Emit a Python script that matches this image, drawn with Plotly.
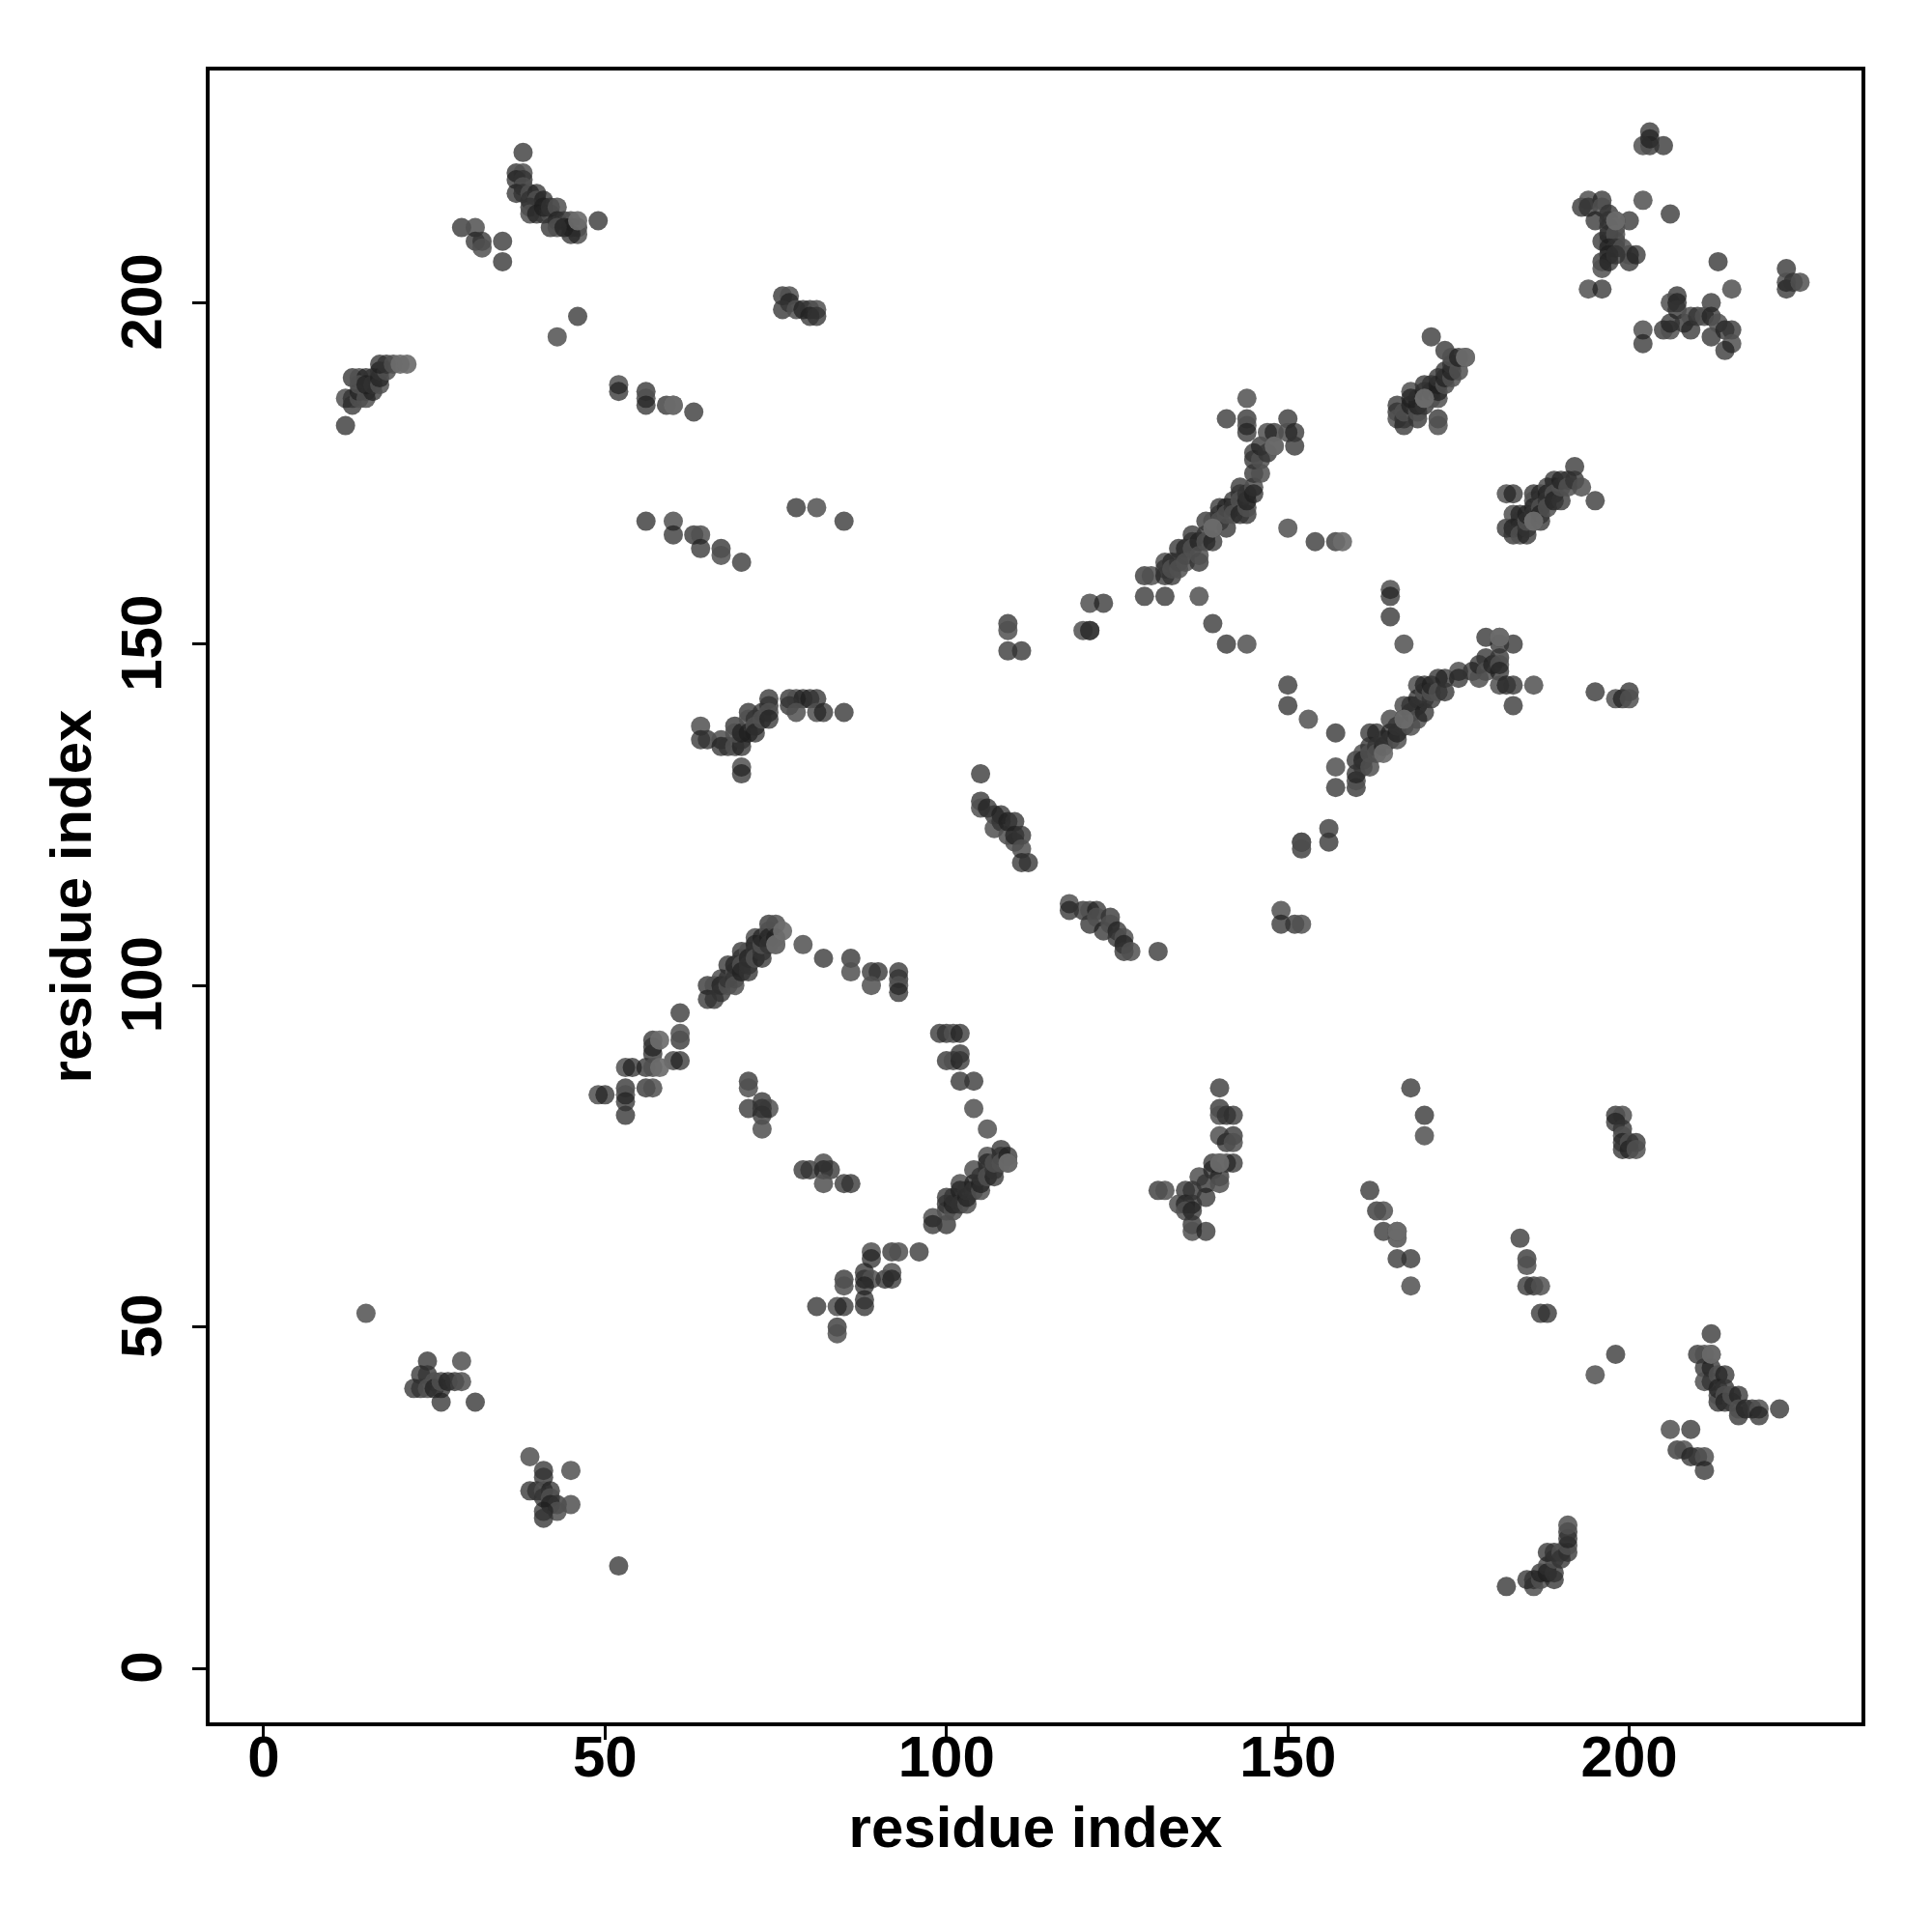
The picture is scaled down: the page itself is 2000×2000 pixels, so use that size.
import plotly.graph_objects as go

tick_values = [0, 50, 100, 150, 200]
axis_label = "residue index"

cluster_nterm = [(12,182),(12,186),(13,185),(13,186),(14,186),(14,187),(15,187),(15,186),(16,187),(13,189),(14,189),(15,189),(16,189),(14,188),(15,188),(16,188),(17,188),(17,189),(17,190),(18,190),(17,191),(18,191),(19,191)]
cluster_top = [(38,222),(37,219),(38,219),(37,218),(38,218),(38,217),(37,216),(38,216),(39,216),(40,216),(39,215),(40,215),(41,215),(39,214),(39,213),(40,213),(41,213),(42,213),(41,214),(42,214),(43,214),(43,212),(44,212),(45,212),(45,211),(46,211),(46,210),(45,210),(42,211),(43,211),(44,211),(29,211),(31,211),(31,209),(32,209),(32,208),(35,209),(35,206),(43,195),(46,198),(49,212)]
cluster_upper_left = [(52,188),(52,187),(56,187),(56,186),(56,185),(59,185),(60,185),(63,184),(56,168),(60,168),(60,166),(63,166),(64,166),(64,164),(67,164),(67,163),(70,162),(78,170),(81,170),(85,168),(76,201),(77,201),(77,200),(76,199),(78,199),(79,199),(80,199),(81,199),(80,198),(81,198)]
cluster_c2 = [(64,138),(64,136),(65,136),(67,136),(67,135),(68,135),(69,135),(70,135),(70,136),(70,132),(70,131),(69,138),(69,137),(70,137),(71,140),(71,139),(71,137),(72,139),(72,138),(72,137),(73,140),(73,139),(74,142),(74,141),(74,140),(74,139),(77,142),(78,142),(79,142),(77,141),(78,140),(80,142),(81,142),(81,140),(82,140),(85,140)]
cluster_arc = [(49,84),(50,84),(53,85),(53,84),(53,83),(53,81),(53,88),(54,88),(56,85),(57,85),(56,88),(57,90),(57,88),(57,91),(57,92),(60,89),(61,89),(61,92),(61,93),(61,96),(65,100),(66,100),(65,98),(66,98),(67,101),(67,100),(67,99),(68,100),(68,103),(68,101),(69,102),(69,103),(69,101),(69,100),(70,105),(70,104),(70,103),(70,102),(71,102),(71,105),(71,104),(71,103),(72,107),(72,106),(72,105),(72,104),(73,104),(73,105),(73,106),(73,107),(74,109),(74,108),(74,107),(74,106),(75,109),(75,107),(75,106),(79,106),(82,104),(86,104),(86,102),(89,102),(90,102),(89,100),(93,102),(93,101),(93,100),(93,99)]
cluster_inner = [(71,86),(71,85),(71,82),(73,83),(74,82),(73,81),(73,82),(73,79),(79,73),(80,73),(82,74),(82,73),(83,73),(82,71),(85,71),(86,71)]
cluster_rise = [(98,66),(98,65),(100,65),(100,67),(100,69),(100,68),(101,67),(101,68),(101,69),(102,71),(102,70),(102,68),(103,68),(103,69),(103,70),(104,73),(104,71),(104,70),(105,70),(105,71),(105,72),(106,75),(106,74),(106,73),(106,72),(107,72),(107,73),(107,74),(108,76),(108,75),(108,74),(109,75),(109,74),(106,79),(104,86),(102,86),(104,82),(99,93),(100,93),(101,93),(102,93),(100,89),(101,89),(102,89),(102,90),(89,61),(89,60),(92,61),(93,61),(96,61),(85,57),(85,56),(88,58),(88,57),(89,57),(88,56),(91,57),(92,58),(92,57),(81,53),(84,53),(85,53),(84,50),(84,49),(88,54),(88,53)]
cluster_lower_left = [(15,52),(52,15),(24,45),(29,45),(23,43),(24,43),(25,42),(22,41),(23,41),(24,41),(25,41),(26,41),(26,42),(27,42),(28,42),(29,42),(26,39),(31,39),(39,31),(41,29),(41,28),(45,29),(39,26),(40,26),(41,26),(42,26),(41,25),(42,25),(42,24),(43,24),(43,23),(41,23),(41,22),(45,24)]
cluster_middle = [(105,131),(105,127),(105,126),(106,126),(107,125),(107,123),(108,125),(108,124),(109,122),(109,124),(110,124),(110,121),(110,122),(111,122),(111,120),(111,118),(112,118),(118,112),(118,111),(120,111),(121,111),(122,111),(121,109),(122,110),(123,108),(124,110),(124,109),(125,108),(125,107),(126,107),(126,106),(126,105),(127,105),(131,105),(109,153),(109,152),(109,149),(111,149),(120,152),(121,152),(121,152),(121,156),(123,156)]
cluster_diag = [(129,160),(130,160),(129,157),(132,157),(137,157),(139,153),(141,150),(144,150),(132,160),(133,160),(132,162),(133,162),(132,161),(133,161),(134,164),(134,162),(134,161),(135,164),(135,163),(135,162),(136,166),(136,165),(136,164),(137,165),(137,162),(137,163),(138,168),(138,166),(138,165),(139,165),(139,167),(139,168),(140,170),(140,169),(140,168),(141,170),(141,167),(141,169),(142,171),(142,170),(142,169),(143,173),(143,172),(143,171),(143,169),(144,169),(144,170),(144,171),(144,172),(145,173),(145,172),(145,175),(146,175),(145,178),(145,177),(146,177),(146,179),(147,178),(147,181),(148,181),(148,179),(144,186),(141,183),(144,183),(144,182),(144,181),(150,183),(150,181),(151,181),(151,179),(150,167),(154,165),(157,165),(165,158),(165,157),(165,154),(167,150)]
cluster_ridge = [(166,185),(166,184),(166,183),(167,182),(167,183),(167,184),(168,185),(169,183),(169,184),(169,185),(169,186),(168,187),(168,186),(170,185),(170,186),(170,187),(170,188),(171,186),(171,187),(171,188),(172,186),(172,187),(172,183),(172,182),(172,188),(172,189),(173,188),(173,189),(173,190),(174,189),(174,190),(174,191),(175,190),(171,195),(173,193),(174,192),(175,192),(176,192)]
cluster_strand = [(182,172),(183,172),(182,167),(183,169),(184,169),(184,168),(184,167),(183,167),(183,166),(184,166),(185,166),(185,167),(185,168),(185,169),(186,172),(186,171),(186,170),(186,169),(186,168),(187,172),(187,171),(187,170),(187,169),(187,168),(188,173),(188,172),(188,171),(188,170),(189,174),(189,173),(189,172),(189,171),(190,171),(190,173),(190,174),(191,174),(191,173),(192,176),(192,174),(193,173),(195,171)]
cluster_long = [(157,137),(157,132),(157,129),(160,129),(160,130),(160,131),(160,133),(161,134),(161,133),(161,132),(162,132),(162,137),(162,135),(162,134),(163,137),(163,135),(163,134),(164,135),(164,136),(165,139),(165,137),(165,136),(166,136),(166,137),(166,138),(167,141),(167,139),(167,138),(168,138),(168,140),(168,141),(169,144),(169,142),(169,141),(169,139),(170,140),(170,142),(170,143),(170,144),(171,142),(171,143),(171,144),(172,145),(172,143),(173,145),(173,143),(175,146),(175,145),(177,146),(178,145),(178,147),(179,148),(179,146),(180,147),(179,151),(181,151),(181,150),(181,148),(181,147),(181,146),(183,150),(181,144),(182,144),(183,144),(186,144),(183,141),(195,143),(198,142),(199,142),(200,143),(200,142),(150,144),(150,141),(153,139),(152,121),(152,120),(152,121),(156,123),(156,121),(149,111),(149,109),(151,109),(152,109)]
cluster_corner = [(203,225),(203,223),(202,223),(203,224),(205,223),(202,215),(206,213),(193,214),(194,215),(196,215),(194,214),(196,214),(195,212),(197,213),(198,212),(200,212),(197,212),(198,211),(196,209),(198,209),(197,209),(197,210),(197,211),(198,210),(197,208),(198,208),(199,208),(197,207),(196,206),(196,205),(197,206),(200,206),(200,207),(201,207),(198,207),(194,202),(196,202),(213,206),(215,202),(212,200),(207,201),(206,200),(207,200),(207,199),(202,196),(202,194),(205,196),(206,196),(206,197),(208,197),(209,198),(209,196),(210,198),(211,198),(212,198),(212,195),(213,197),(214,196),(215,196),(215,194),(214,193),(223,205),(223,203),(223,202),(224,203),(225,203)]
cluster_lower_right = [(162,70),(163,67),(164,67),(164,64),(166,64),(166,63),(166,60),(168,60),(168,56),(168,85),(170,81),(170,78),(184,63),(185,60),(185,59),(185,56),(186,56),(187,56),(187,52),(188,52),(195,43),(198,46),(198,81),(199,81),(198,80),(199,79),(199,78),(199,77),(199,76),(200,77),(200,76),(201,77),(201,76),(212,49),(210,46),(211,46),(212,46),(211,44),(211,42),(212,44),(212,42),(213,43),(214,43),(213,39),(213,40),(213,41),(214,41),(214,40),(214,39),(215,39),(215,40),(216,40),(216,37),(216,38),(217,38),(218,38),(219,38),(219,37),(222,38),(206,35),(209,35),(207,32),(208,32),(209,31),(210,31),(211,31),(211,29),(182,12),(186,12),(185,13),(186,13),(187,13),(187,14),(189,13),(188,15),(188,14),(189,14),(189,16),(188,17),(189,17),(190,17),(191,17),(190,16),(191,18),(191,19),(191,20),(191,21)]
cluster_mid_right = [(140,85),(140,82),(140,81),(142,81),(141,81),(140,78),(141,77),(142,78),(142,77),(139,74),(140,74),(141,74),(142,74),(140,72),(137,72),(139,73),(138,71),(140,71),(138,69),(131,70),(132,70),(135,70),(136,70),(134,68),(135,68),(136,68),(135,67),(136,67),(136,65),(136,64),(138,64)]
# lighter dots that sit on top of the dark overlaps
top_dots = [(20,191),(21,191),(46,212),(58,92),(58,88),(60,185),(75,106),(76,108),(109,74),(158,165),(164,134),(148,179),(176,192),(181,151),(166,64),(140,74),(212,46),(170,186),(186,168),(198,212),(139,167),(167,139)]

base_groups = [cluster_nterm, cluster_top, cluster_upper_left, cluster_c2, cluster_arc, cluster_inner,
               cluster_rise, cluster_lower_left, cluster_middle, cluster_diag, cluster_ridge, cluster_strand,
               cluster_long, cluster_corner, cluster_lower_right, cluster_mid_right]
base = [p for g in base_groups for p in g]
dot_styles = ["rgba(50,50,50,0.78)", "rgba(80,80,80,0.85)", "rgba(30,30,30,0.7)"]

fig = go.Figure()
fig.add_trace(go.Scatter(x=[p[0] for p in base], y=[p[1] for p in base], mode="markers",
                         marker=dict(size=20, color=[dot_styles[i % 3] for i in range(len(base))], line=dict(width=0)),
                         showlegend=False))
fig.add_trace(go.Scatter(x=[p[0] for p in top_dots], y=[p[1] for p in top_dots], mode="markers",
                         marker=dict(size=20, color="rgba(108,108,108,0.92)", line=dict(width=0)),
                         showlegend=False))

title_font = dict(family="Liberation Sans", size=60, color="black", weight="bold")
axis = dict(tickmode="array", tickvals=tick_values, ticks="outside", ticklen=14, tickwidth=3, tickcolor="black",
            showgrid=False, zeroline=False, showline=True, linewidth=3.5, linecolor="black", mirror=True,
            tickfont=dict(family="Liberation Sans", size=60, color="black", weight="bold"))
fig.update_layout(
    width=2000, height=2000, autosize=False,
    margin=dict(l=217, r=73, t=73, b=217),
    paper_bgcolor="white", plot_bgcolor="white",
    xaxis=dict(range=[-7.9, 234], ticklabelstandoff=-34, title=dict(text=axis_label, standoff=20, font=title_font), **axis),
    yaxis=dict(range=[-7.9, 234], tickangle=-90, ticklabelstandoff=8, ticklabelshift=8, title=dict(text=axis_label, standoff=0, font=title_font), **axis),
)
fig.write_html("out.html", config={"displayModeBar": False}, post_script="document.body.style.margin='0';")
